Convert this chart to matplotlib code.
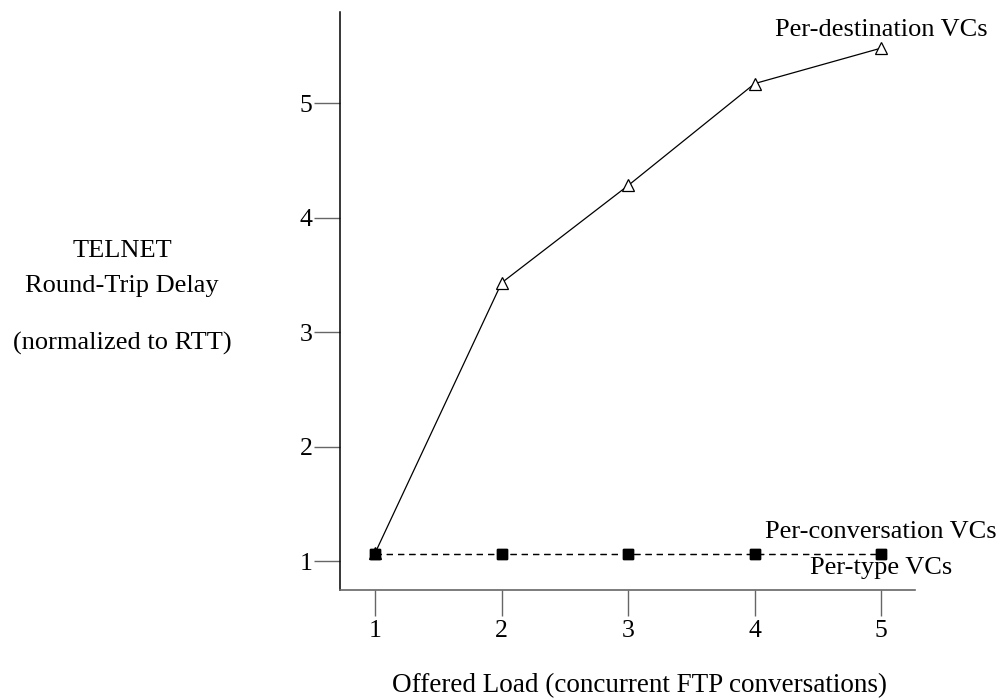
import matplotlib.pyplot as plt

plt.rcParams['font.family'] = ['Liberation Serif', 'DejaVu Serif']

load = [1, 2, 3, 4, 5]
per_destination = [1.07, 3.43, 4.28, 5.17, 5.48]
per_conversation = [1.06, 1.06, 1.06, 1.06, 1.06]
per_type = [1.06, 1.06, 1.06, 1.06, 1.06]

fig = plt.figure(figsize=(10.01, 6.98), dpi=100)
ax = fig.add_axes([0.3397, 0.1547, 0.5747, 0.8281])

ax.plot(load, per_destination, color='black', linewidth=0.9, marker='^',
        markersize=8, markerfacecolor='white', markeredgecolor='black', markeredgewidth=0.9)
ax.plot(load, per_conversation, color='black', linewidth=0.9, linestyle=(0, (5, 4)),
        marker='s', markersize=7, markerfacecolor='black')
ax.plot(load, per_type, color='black', linewidth=0.9, linestyle=(0, (5, 4)),
        marker='s', markersize=7, markerfacecolor='black')

ax.set_xlim(0.723, 5.269)
ax.set_ylim(0.747, 5.795)
ax.set_xticks(load)
ax.set_yticks([1, 2, 3, 4, 5])
ax.tick_params(direction='out', length=19, width=1, color='#666666', labelsize=18.5)
ax.tick_params(axis='x', pad=2.5)
ax.tick_params(axis='y', pad=0.8)
for s in ['top', 'right']:
    ax.spines[s].set_visible(False)
ax.spines['left'].set_linewidth(1.1)
ax.spines['bottom'].set_linewidth(1.2)
ax.spines['bottom'].set_color('#666666')

ax.text(5, 5.64, 'Per-destination VCs', ha='center', va='center', fontsize=19, clip_on=False)
ax.text(5, 1.25, 'Per-conversation VCs', ha='center', va='center', fontsize=19, clip_on=False)
ax.text(5, 0.94, 'Per-type VCs', ha='center', va='center', fontsize=19, clip_on=False)

fig.text(122 / 1001, 1 - 251 / 698, 'TELNET', ha='center', va='center', fontsize=19)
fig.text(122 / 1001, 1 - 286 / 698, 'Round-Trip Delay', ha='center', va='center', fontsize=19)
fig.text(122 / 1001, 1 - 343 / 698, '(normalized to RTT)', ha='center', va='center', fontsize=19)
fig.text(639 / 1001, 1 - 686 / 698, 'Offered Load (concurrent FTP conversations)',
         ha='center', va='center', fontsize=19.5)

fig.savefig('out.png', dpi=100)
